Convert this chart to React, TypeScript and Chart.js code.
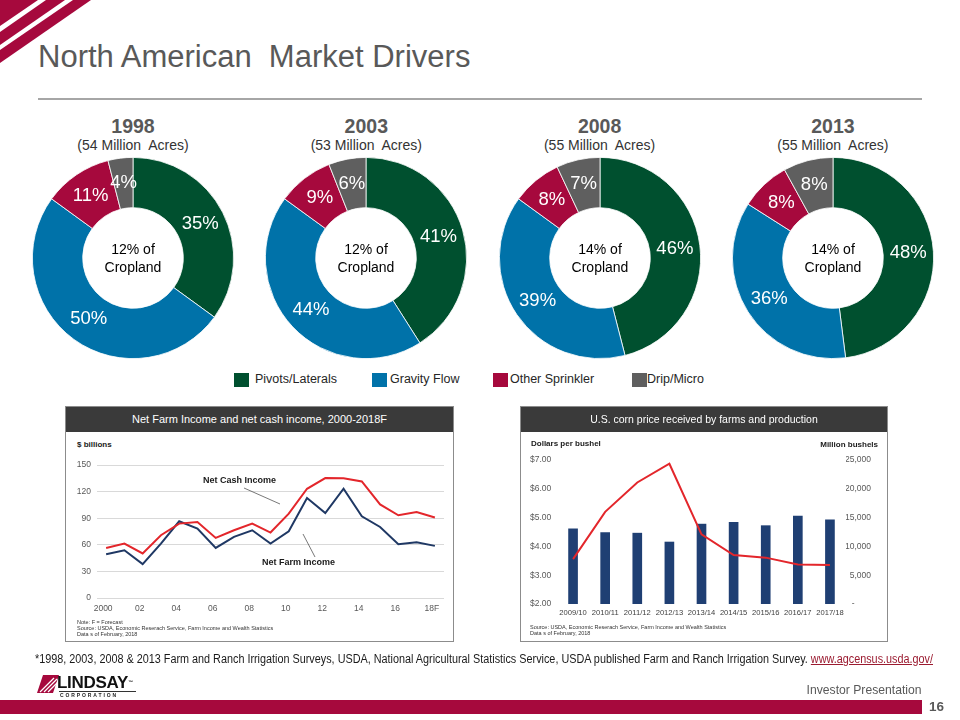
import React, { useEffect, useLayoutEffect, useRef } from 'react';
import { Chart, registerables } from 'chart.js';

Chart.register(...registerables);

const FONT = '"Liberation Sans", Arial, Helvetica, sans-serif';

// ---- Irrigation method donuts ----
const irrigationTypes = ['Pivots/Laterals', 'Gravity Flow', 'Other Sprinkler', 'Drip/Micro'];
const typeColors = ['#00502F', '#0072A9', '#A6093D', '#5F5F5F'];
const surveyYears = ['1998', '2003', '2008', '2013'];
const surveyAcres = ['(54 Million  Acres)', '(53 Million  Acres)', '(55 Million  Acres)', '(55 Million  Acres)'];
const croplandShare = ['12%', '12%', '14%', '14%'];
const share1998 = [35, 50, 11, 4];
const share2003 = [41, 44, 9, 6];
const share2008 = [46, 39, 8, 7];
const share2013 = [48, 36, 8, 8];
const surveyShares = [share1998, share2003, share2008, share2013];

// ---- Net farm income ----
const incomeYears = ['2000', '01', '02', '03', '04', '05', '06', '07', '08', '09', '10', '11', '12', '13', '14', '15', '16', '17', '18F'];
const netCashIncome = [56.5, 61.4, 50.2, 70.8, 83.9, 85.8, 67.8, 76.4, 83.9, 73.8, 95.1, 123.2, 135.2, 135.0, 131.5, 105.6, 93.3, 97.0, 90.7];
const netFarmIncome = [49.4, 53.9, 38.2, 61.4, 86.5, 78.3, 56.5, 68.9, 76.4, 61.4, 75.3, 112.7, 95.8, 123.2, 92.1, 80.1, 60.7, 62.9, 58.8];
const incomeTicks = [0, 30, 60, 90, 120, 150];

// ---- Corn price and production ----
const marketingYears = ['2009/10', '2010/11', '2011/12', '2012/13', '2013/14', '2014/15', '2015/16', '2016/17', '2017/18'];
const cornPrice = [3.56, 5.2, 6.22, 6.87, 4.42, 3.7, 3.61, 3.37, 3.35];
const cornProduction = [13050, 12400, 12300, 10760, 13870, 14180, 13600, 15250, 14600];

const CRIMSON = '#A6093D';
const GREY_TEXT = '#595959';

const abs = (left: number, top: number, extra: React.CSSProperties = {}): React.CSSProperties => ({
  position: 'absolute',
  left,
  top,
  ...extra,
});

function FitText({
  left,
  right,
  top,
  width,
  style,
  children,
}: {
  left?: number;
  right?: number;
  top: number;
  width: number;
  style: React.CSSProperties;
  children: React.ReactNode;
}) {
  const ref = useRef<HTMLDivElement>(null);
  useLayoutEffect(() => {
    const el = ref.current as HTMLDivElement;
    el.style.transform = 'none';
    const w = el.getBoundingClientRect().width;
    if (w > 0) el.style.transform = `scaleX(${width / w})`;
  }, [width]);
  const pos: React.CSSProperties =
    right !== undefined
      ? { position: 'absolute', right, top, transformOrigin: 'right top' }
      : { position: 'absolute', left, top, transformOrigin: 'left top' };
  return (
    <div ref={ref} style={{ ...pos, display: 'inline-block', whiteSpace: 'nowrap', ...style }}>
      {children}
    </div>
  );
}

function makeDonutLabels(center: string) {
  return {
    id: 'donutLabels',
    afterDatasetsDraw(chart: any) {
      const { ctx } = chart;
      const meta = chart.getDatasetMeta(0);
      const values = chart.data.datasets[0].data as number[];
      ctx.save();
      ctx.textAlign = 'center';
      ctx.textBaseline = 'middle';
      ctx.fillStyle = '#ffffff';
      ctx.font = `18.5px ${FONT}`;
      meta.data.forEach((arc: any, i: number) => {
        const p = arc.tooltipPosition(false);
        ctx.fillText(values[i] + '%', p.x, p.y);
      });
      const c = meta.data[0];
      ctx.fillStyle = '#000000';
      ctx.font = `14px ${FONT}`;
      ctx.fillText(center + ' of', c.x, c.y - 8);
      ctx.fillText('Cropland', c.x, c.y + 10);
      ctx.restore();
    },
  };
}

function Donut({ index }: { index: number }) {
  const ref = useRef<HTMLCanvasElement>(null);
  useEffect(() => {
    const chart = new Chart(ref.current as HTMLCanvasElement, {
      type: 'doughnut',
      data: {
        labels: irrigationTypes,
        datasets: [
          {
            data: surveyShares[index],
            backgroundColor: typeColors,
            borderColor: '#ffffff',
            borderWidth: 0.8,
          },
        ],
      },
      options: {
        responsive: false,
        animation: false,
        cutout: '50%',
        events: [],
        layout: { padding: 0 },
        plugins: { legend: { display: false }, tooltip: { enabled: false } },
      },
      plugins: [makeDonutLabels(croplandShare[index])],
    } as any);
    return () => chart.destroy();
  }, [index]);
  const cx = 133 + index * 233.3;
  return (
    <>
      <div
        style={abs(cx - 80, 116, {
          width: 160,
          textAlign: 'center',
          font: `bold 19.5px ${FONT}`,
          lineHeight: '20px',
          color: GREY_TEXT,
        })}
      >
        {surveyYears[index]}
      </div>
      <div
        style={abs(cx - 90, 137, {
          width: 180,
          textAlign: 'center',
          font: `14px ${FONT}`,
          lineHeight: '16px',
          color: '#333333',
          whiteSpace: 'pre',
        })}
      >
        {surveyAcres[index]}
      </div>
      <canvas ref={ref} width={202} height={202} style={abs(cx - 101, 157, { width: 202, height: 202 })} />
    </>
  );
}

function IncomeChart() {
  const ref = useRef<HTMLCanvasElement>(null);
  useEffect(() => {
    const tickFont = { family: FONT, size: 8.5 };
    const chart = new Chart(ref.current as HTMLCanvasElement, {
      type: 'line',
      data: {
        labels: incomeYears,
        datasets: [
          {
            label: 'Net Cash Income',
            data: netCashIncome,
            borderColor: '#E3262B',
            borderWidth: 2,
            pointRadius: 0,
            tension: 0,
          },
          {
            label: 'Net Farm Income',
            data: netFarmIncome,
            borderColor: '#1F3864',
            borderWidth: 2,
            pointRadius: 0,
            tension: 0,
          },
        ],
      },
      options: {
        responsive: false,
        animation: false,
        events: [],
        layout: { padding: { left: 0, right: 9, top: 32, bottom: 20 } },
        plugins: { legend: { display: false }, tooltip: { enabled: false } },
        scales: {
          x: {
            offset: true,
            grid: { display: false, drawTicks: false },
            border: { display: false },
            ticks: {
              autoSkip: false,
              maxRotation: 0,
              color: GREY_TEXT,
              font: tickFont,
              padding: 6,
              labelOffset: -3,
              callback: (_v: any, i: number) => (i % 2 === 0 ? incomeYears[i] : ''),
            },
            afterFit: (s: any) => {
              s.height = 22;
            },
          },
          y: {
            min: incomeTicks[0],
            max: incomeTicks[incomeTicks.length - 1],
            afterBuildTicks: (s: any) => {
              s.ticks = incomeTicks.map((v) => ({ value: v }));
            },
            ticks: { color: GREY_TEXT, font: tickFont, padding: 6 },
            grid: { color: '#D9D9D9', drawTicks: false, lineWidth: 1 },
            border: { display: false },
            afterFit: (s: any) => {
              s.width = 31;
            },
          },
        },
      },
    } as any);
    return () => chart.destroy();
  }, []);
  return <canvas ref={ref} width={387} height={207} style={abs(66, 433, { width: 387, height: 207 })} />;
}

function CornChart() {
  const ref = useRef<HTMLCanvasElement>(null);
  useEffect(() => {
    const tickFont = { family: FONT, size: 8.5 };
    const chart = new Chart(ref.current as HTMLCanvasElement, {
      type: 'bar',
      data: {
        labels: marketingYears,
        datasets: [
          {
            type: 'line',
            label: 'Price',
            data: cornPrice,
            yAxisID: 'yPrice',
            borderColor: '#E3262B',
            borderWidth: 2,
            pointRadius: 0,
            tension: 0,
            order: 0,
          },
          {
            type: 'bar',
            label: 'Production',
            data: cornProduction,
            yAxisID: 'yProd',
            backgroundColor: '#1F3F73',
            barThickness: 9,
            order: 1,
          },
        ],
      },
      options: {
        responsive: false,
        animation: false,
        events: [],
        layout: { padding: { left: 9, right: 16, top: 28, bottom: 16 } },
        plugins: { legend: { display: false }, tooltip: { enabled: false } },
        scales: {
          x: {
            grid: { display: false, drawTicks: false },
            border: { display: false },
            ticks: { autoSkip: false, maxRotation: 0, color: '#404040', font: { family: FONT, size: 7.6 }, padding: 4 },
            afterFit: (s: any) => {
              s.height = 20;
            },
          },
          yPrice: {
            position: 'left',
            min: 2,
            max: 7,
            ticks: {
              stepSize: 1,
              color: GREY_TEXT,
              font: tickFont,
              crossAlign: 'far',
              callback: (v: any) => '$' + Number(v).toFixed(2),
            },
            grid: { display: false, drawTicks: false },
            border: { display: false },
            afterFit: (s: any) => {
              s.width = 27;
            },
          },
          yProd: {
            position: 'right',
            min: 0,
            max: 25000,
            ticks: {
              stepSize: 5000,
              color: GREY_TEXT,
              font: tickFont,
              crossAlign: 'far',
              callback: (v: any) => (Number(v) === 0 ? '-       ' : Number(v).toLocaleString('en-US')),
            },
            grid: { display: false, drawTicks: false },
            border: { display: false },
            afterFit: (s: any) => {
              s.width = 25;
            },
          },
        },
      },
    } as any);
    return () => chart.destroy();
  }, []);
  return <canvas ref={ref} width={366} height={208} style={abs(521, 432, { width: 366, height: 208 })} />;
}

const tiny = (size: number): React.CSSProperties => ({
  font: `${size}px ${FONT}`,
  lineHeight: `${size + 0.5}px`,
  color: '#333333',
  whiteSpace: 'nowrap',
});

export default function App() {
  useEffect(() => {
    document.body.style.margin = '0';
  }, []);
  const legendItems = [
    { sq: 234, tx: 255 },
    { sq: 372, tx: 390 },
    { sq: 493, tx: 510 },
    { sq: 632, tx: 647 },
  ];
  return (
    <div style={{ position: 'absolute', left: 0, top: 0, width: 960, height: 720, background: '#ffffff', overflow: 'hidden', fontFamily: FONT }}>
      {/* corner stripes */}
      <svg width={100} height={70} style={abs(0, 0)}>
        <polygon points="0,0 38,0 0,26" fill={CRIMSON} />
        <polygon points="46,0 65,0 0,45 0,32" fill={CRIMSON} />
        <polygon points="73,0 91,0 0,63 0,50" fill={CRIMSON} />
      </svg>

      {/* title */}
      <div style={abs(38, 40, { font: `31px ${FONT}`, lineHeight: '34px', color: GREY_TEXT, whiteSpace: 'pre' })}>
        North American  Market Drivers
      </div>
      <div style={abs(38, 98, { width: 884, height: 2, background: '#A6A6A6' })} />

      {/* donuts */}
      {[0, 1, 2, 3].map((i) => (
        <Donut key={i} index={i} />
      ))}

      {/* legend */}
      {legendItems.map((it, i) => (
        <React.Fragment key={i}>
          <div style={abs(it.sq, 373, { width: 15, height: 14, background: typeColors[i] })} />
          <div style={abs(it.tx, 372, { font: `12.5px ${FONT}`, lineHeight: '15px', color: '#262626', whiteSpace: 'nowrap' })}>
            {irrigationTypes[i]}
          </div>
        </React.Fragment>
      ))}

      {/* left panel */}
      <div style={abs(65, 406, { width: 387, height: 234, border: '1px solid #8C8C8C' })} />
      <div
        style={abs(66, 407, {
          width: 387,
          height: 25,
          background: '#3A3A3A',
          color: '#ffffff',
          font: `11px ${FONT}`,
          lineHeight: '25px',
          textAlign: 'center',
          whiteSpace: 'nowrap',
        })}
      >
        Net Farm Income and net cash income, 2000-2018F
      </div>
      <div style={abs(77, 440, { font: `bold 8px ${FONT}`, color: '#1a1a1a', whiteSpace: 'nowrap' })}>$ billions</div>
      <IncomeChart />
      <div style={abs(203, 475, { font: `bold 9px ${FONT}`, color: '#1a1a1a', whiteSpace: 'nowrap' })}>Net Cash Income</div>
      <div style={abs(262, 557, { font: `bold 9px ${FONT}`, color: '#1a1a1a', whiteSpace: 'nowrap' })}>Net Farm Income</div>
      <svg width={960} height={720} style={abs(0, 0, { pointerEvents: 'none' })}>
        <line x1={244} y1={488} x2={280} y2={504} stroke="#555555" strokeWidth={0.8} />
        <line x1={303} y1={534} x2={315} y2={557} stroke="#555555" strokeWidth={0.8} />
      </svg>
      <div style={abs(77, 619, tiny(5.5))}>
        Note: F = Forecast
        <br />
        Source: USDA, Economic Reserach Service, Farm Income and Wealth Statistics
        <br />
        Data s of February, 2018
      </div>

      {/* right panel */}
      <div style={abs(520, 406, { width: 366, height: 234, border: '1px solid #8C8C8C' })} />
      <div
        style={abs(521, 407, {
          width: 366,
          height: 25,
          background: '#3A3A3A',
          color: '#ffffff',
          font: `10.5px ${FONT}`,
          lineHeight: '25px',
          textAlign: 'center',
          whiteSpace: 'nowrap',
        })}
      >
        U.S. corn price received by farms and production
      </div>
      <div style={abs(531, 439, { font: `bold 8px ${FONT}`, color: '#1a1a1a', whiteSpace: 'nowrap' })}>Dollars per bushel</div>
      <div style={abs(778, 440, { width: 100, textAlign: 'right', font: `bold 8px ${FONT}`, color: '#1a1a1a', whiteSpace: 'nowrap' })}>
        Million bushels
      </div>
      <CornChart />
      <div style={abs(530, 624, tiny(5.5))}>
        Source: USDA, Economic Reserach Service, Farm Income and Wealth Statistics
        <br />
        Data s of February, 2018
      </div>

      {/* footnote */}
      <FitText left={35} top={652} width={898} style={{ font: `12px ${FONT}`, lineHeight: '15px', color: '#1a1a1a' }}>
        *1998, 2003, 2008 &amp; 2013 Farm and Ranch Irrigation Surveys, USDA, National Agricultural Statistics Service, USDA published Farm and
        Ranch Irrigation Survey.{' '}
        <span style={{ color: '#9B1B30', textDecoration: 'underline' }}>www.agcensus.usda.gov/</span>
      </FitText>

      {/* logo */}
      <svg width={22} height={20} style={abs(37, 675)}>
        <polygon points="6,0 22,0 16,18 0,18" fill={CRIMSON} />
        <line x1={3} y1={17} x2={17} y2={3} stroke="#ffffff" strokeWidth={1.2} />
        <line x1={7} y1={17} x2={20} y2={4} stroke="#ffffff" strokeWidth={1.2} />
        <line x1={11} y1={17} x2={21} y2={7} stroke="#ffffff" strokeWidth={1.2} />
      </svg>
      <div style={abs(57, 674, { font: `bold 17px ${FONT}`, lineHeight: '17px', color: '#111111', letterSpacing: '-0.3px', whiteSpace: 'nowrap' })}>
        LINDSAY<span style={{ fontSize: 5, verticalAlign: 'top' }}>™</span>
      </div>
      <div style={abs(59, 691, { width: 77, height: 1, background: '#333' })} />
      <div style={abs(60, 692, { font: `bold 5px ${FONT}`, lineHeight: '6px', letterSpacing: '1.9px', color: '#222', whiteSpace: 'nowrap' })}>
        CORPORATION
      </div>

      <FitText right={38} top={682} width={115} style={{ font: `13.5px ${FONT}`, lineHeight: '16px', color: GREY_TEXT }}>
        Investor Presentation
      </FitText>
      <div style={abs(0, 700, { width: 922, height: 14, background: CRIMSON })} />
      <FitText left={929} top={700} width={15} style={{ font: `bold 13px ${FONT}`, lineHeight: '14px', color: GREY_TEXT }}>
        16
      </FitText>
    </div>
  );
}
